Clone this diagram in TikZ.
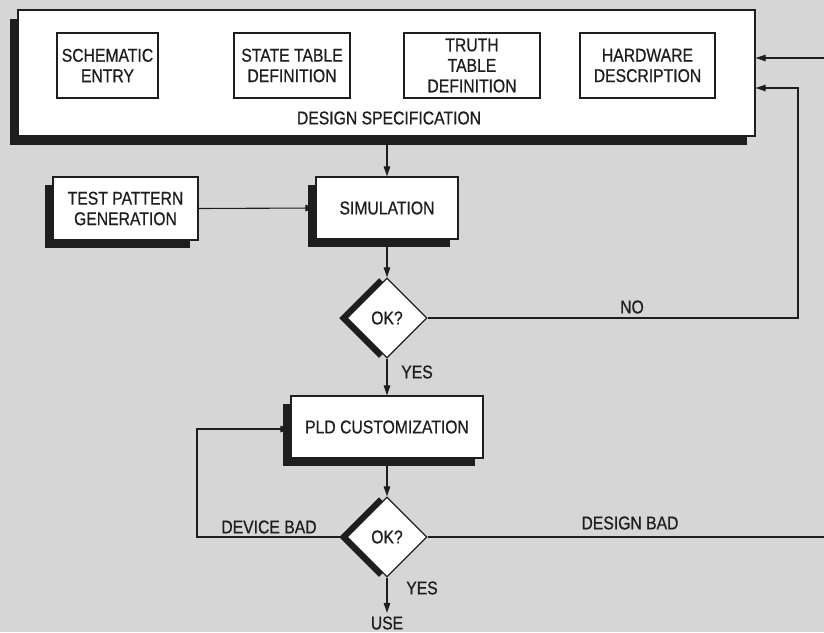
\documentclass[tikz,border=0pt]{standalone}
\usepackage{fontspec}
\setmainfont[FakeStretch=0.85,FakeBold=0.6]{Liberation Sans}
\usepackage{tikz}
\usetikzlibrary{shapes.geometric,shadows,arrows.meta}
\definecolor{paper}{RGB}{214,214,214}
\definecolor{ink}{RGB}{30,30,30}

\begin{document}
\begin{tikzpicture}[
    x=1pt, y=-1pt,
    every node/.style={font=\fontsize{18.5}{20.5}\selectfont, text=ink},
    spec/.style={rectangle, draw=ink, line width=1.3pt, fill=white, drop shadow={shadow xshift=-8pt, shadow yshift=-9pt, fill=ink, opacity=1}},
    entry/.style={rectangle, draw=ink, line width=1.2pt, fill=white, align=center, inner sep=1pt},
    shadowbox/.style={rectangle, draw=ink, line width=1.2pt, fill=white, align=center, drop shadow={shadow xshift=-8pt, shadow yshift=-8pt, fill=ink, opacity=1}},
    decision/.style={diamond, draw=ink, line width=1.2pt, fill=white, minimum size=80pt, inner sep=0pt, drop shadow={shadow xshift=-8pt, shadow yshift=0pt, fill=ink, opacity=1}},
    flow/.style={draw=ink, line width=1.1pt, -{Triangle[length=10pt,width=6.5pt]}},
    link/.style={draw=ink, line width=1.1pt}
]
  \useasboundingbox (0,0) rectangle (824,632);
  \fill[paper] (0,0) rectangle (824,632);

  % design specification block
  \node[spec, minimum width=737pt, minimum height=126pt] (spec) at (386.5,73) {};
  \node (specname) at (389,118) {DESIGN SPECIFICATION};
  \foreach \name/\cx/\bw/\txt in {schem/107.5/101pt/{SCHEMATIC\\ENTRY},
      state/292/116pt/{STATE TABLE\\DEFINITION},
      truth/472/136pt/{TRUTH\\TABLE\\DEFINITION},
      hdl/647.5/135pt/{HARDWARE\\DESCRIPTION}} {
    \node[entry, minimum width=\bw, minimum height=65pt] (\name) at (\cx,65.5) {\txt};
  }

  % flow
  \node[shadowbox, minimum width=145pt, minimum height=63pt] (tpg) at (125.5,208.5) {TEST PATTERN\\GENERATION};
  \node[shadowbox, minimum width=142pt, minimum height=62pt] (sim) at (387,208) {SIMULATION};
  \node[decision] (ok1) at (387,318) {OK?};
  \node[shadowbox, minimum width=192pt, minimum height=62pt] (pld) at (387,427) {PLD CUSTOMIZATION};
  \node[decision] (ok2) at (387,537) {OK?};
  \node (use) at (387,623) {USE};

  \node (no) at (632,307) {NO};
  \node (yes1) at (417,372) {YES};
  \node (yes2) at (422,588) {YES};
  \node (devbad) at (269,527) {DEVICE BAD};
  \node (desbad) at (630,523) {DESIGN BAD};

  \coordinate (feedIn) at (824,58);
  \coordinate (noTurn) at (798,88);
  \coordinate (badTurn) at (197,429);
  \coordinate (designOut) at (824,537);

  \draw[flow] (spec.south -| sim.north) -- (sim.north);
  \draw[flow] (tpg.east) -- (sim.west);
  \draw[flow] (sim.south) -- (ok1.north);
  \draw[flow] (ok1.south) -- (pld.north);
  \draw[flow] (pld.south) -- (ok2.north);
  \draw[flow] (ok2.south) -- (use.north);
  \draw[flow] (ok1.east) -| (noTurn) -- (noTurn -| spec.east);
  \draw[flow] (feedIn) -- (feedIn -| spec.east);
  \draw[flow] (ok2.west) -| (badTurn) -- (badTurn -| pld.west);
  \draw[link] (ok2.east) -- (designOut);
\end{tikzpicture}
\end{document}
